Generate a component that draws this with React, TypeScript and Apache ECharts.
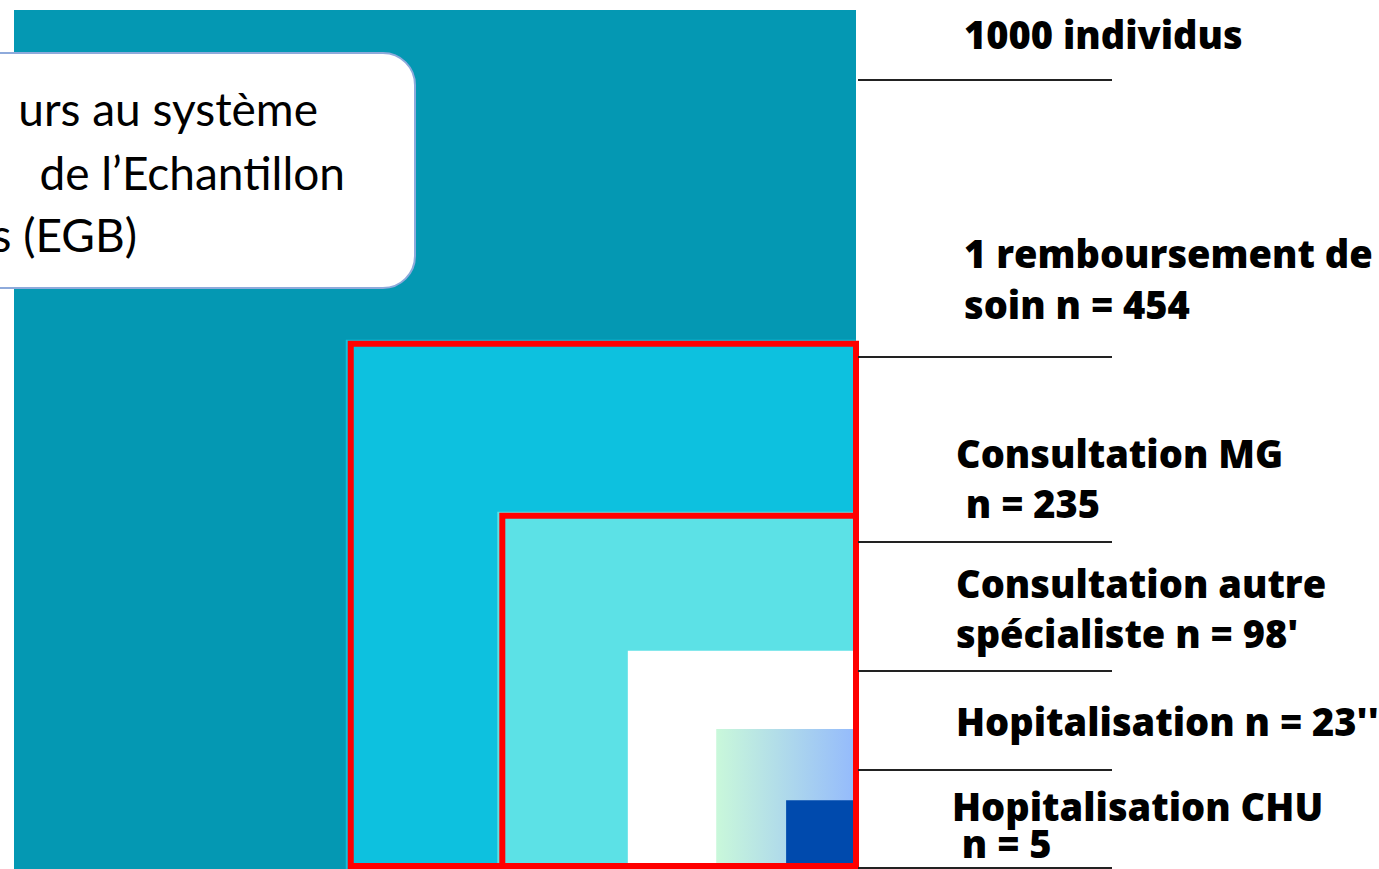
import React, { useEffect, useRef } from "react";
import * as echarts from "echarts";

// ---- data ----
const categories = [
  "1000 individus",
  "1 remboursement de soin",
  "Consultation MG",
  "Consultation autre spécialiste",
  "Hopitalisation",
  "Hopitalisation CHU",
];
const counts = [1000, 454, 235, 98, 23, 5];
// relative side of each nested square (outer square = 1000 on each axis)
const sideX = [1000, 606, 426, 271, 166, 83];
const sideY = [1000, 616, 416, 254, 163, 80];
const outlined = [false, true, true, false, false, false];

// right-hand labels (line breaks as in the picture)
const labelLines = [
  ["1000 individus"],
  ["1 remboursement de", "soin n = 454"],
  ["Consultation MG", " n = 235"],
  ["Consultation autre", "spécialiste n = 98'"],
  ["Hopitalisation n = 23''"],
  ["Hopitalisation CHU", " n = 5"],
];
const boxLines = ["urs au système", "de l’Echantillon", "s (EGB)"];

// ---- styling ----
const fills: any[] = [
  "#0498b3",
  "#0dc1df",
  "#5ce1e6",
  "#ffffff",
  new echarts.graphic.LinearGradient(0, 0, 1, 0, [
    { offset: 0, color: "#c9f8da" },
    { offset: 1, color: "#94bafc" },
  ]),
  "#004aad",
];
const labelX = [964, 964, 956, 956, 956, 952];
const labelBaselines = [[48], [267, 318], [467, 517], [597, 647], [735], [820, 857]];
const separatorY = [80, 357, 542, 671, 770, 868];
const boxRight = [318, 345, 137];
const boxBaselines = [125, 189, 251];

export default function App() {
  const ref = useRef<HTMLDivElement>(null);
  useEffect(() => {
    if (!ref.current) return;
    const chart = echarts.init(ref.current, null, { renderer: "svg" });
    const squares = categories.map((name, i) => ({
      name,
      value: [sideX[i], sideY[i], counts[i]],
    }));
    const outlinedSquares = squares.filter((_, i) => outlined[i]);

    const graphics: any[] = [];
    // text box
    graphics.push({
      type: "rect",
      z: 100,
      shape: { x: -40, y: 53, width: 455, height: 235, r: 32 },
      style: { fill: "#ffffff", stroke: "#8eaadb", lineWidth: 2 },
    });
    boxLines.forEach((t, i) => {
      graphics.push({
        type: "text",
        z: 101,
        x: boxRight[i],
        y: boxBaselines[i] - 17,
        style: {
          text: t,
          fill: "#000000",
          font: "46px Lato, 'Noto Sans', sans-serif",
          align: "right",
          verticalAlign: "middle",
        },
      });
    });
    // separators
    separatorY.forEach((y) => {
      graphics.push({
        type: "line",
        z: 100,
        shape: { x1: 858, y1: y, x2: 1112, y2: y },
        style: { stroke: "#222222", lineWidth: 2 },
      });
    });
    // labels
    labelLines.forEach((lines, i) => {
      lines.forEach((t, j) => {
        graphics.push({
          type: "text",
          z: 100,
          x: labelX[i],
          y: labelBaselines[i][j] - 14,
          style: {
            text: t,
            fill: "#000000",
            font: "800 38px 'Open Sans', sans-serif",
            align: "left",
            verticalAlign: "middle",
          },
        });
      });
    });

    chart.setOption({
      animation: false,
      backgroundColor: "#ffffff",
      grid: { left: 14, top: 10, width: 842, height: 859 },
      xAxis: { type: "value", min: 0, max: 1000, inverse: true, show: false },
      yAxis: { type: "value", min: 0, max: 1000, show: false },
      series: [
        {
          type: "custom",
          z: 2,
          data: squares,
          renderItem: (params: any, api: any) => {
            const i = params.dataIndex;
            const p0 = api.coord([api.value(0), api.value(1)]);
            const p1 = api.coord([0, 0]);
            return {
              type: "rect",
              shape: { x: p0[0], y: p0[1], width: p1[0] - p0[0], height: p1[1] - p0[1] },
              style: { fill: fills[i] },
            };
          },
        },
        {
          type: "custom",
          z: 5,
          data: outlinedSquares,
          renderItem: (params: any, api: any) => {
            const p0 = api.coord([api.value(0), api.value(1)]);
            const p1 = api.coord([0, 0]);
            return {
              type: "rect",
              shape: {
                x: p0[0] + 5,
                y: p0[1] + 4,
                width: p1[0] - p0[0] - 5,
                height: p1[1] - p0[1] - 7,
              },
              style: { fill: "none", stroke: "#ff0000", lineWidth: 6 },
            };
          },
        },
      ],
      graphic: graphics,
    });
    return () => chart.dispose();
  }, []);
  return (
    <div
      ref={ref}
      style={{ position: "fixed", left: 0, top: 0, width: 1379, height: 869 }}
    />
  );
}
